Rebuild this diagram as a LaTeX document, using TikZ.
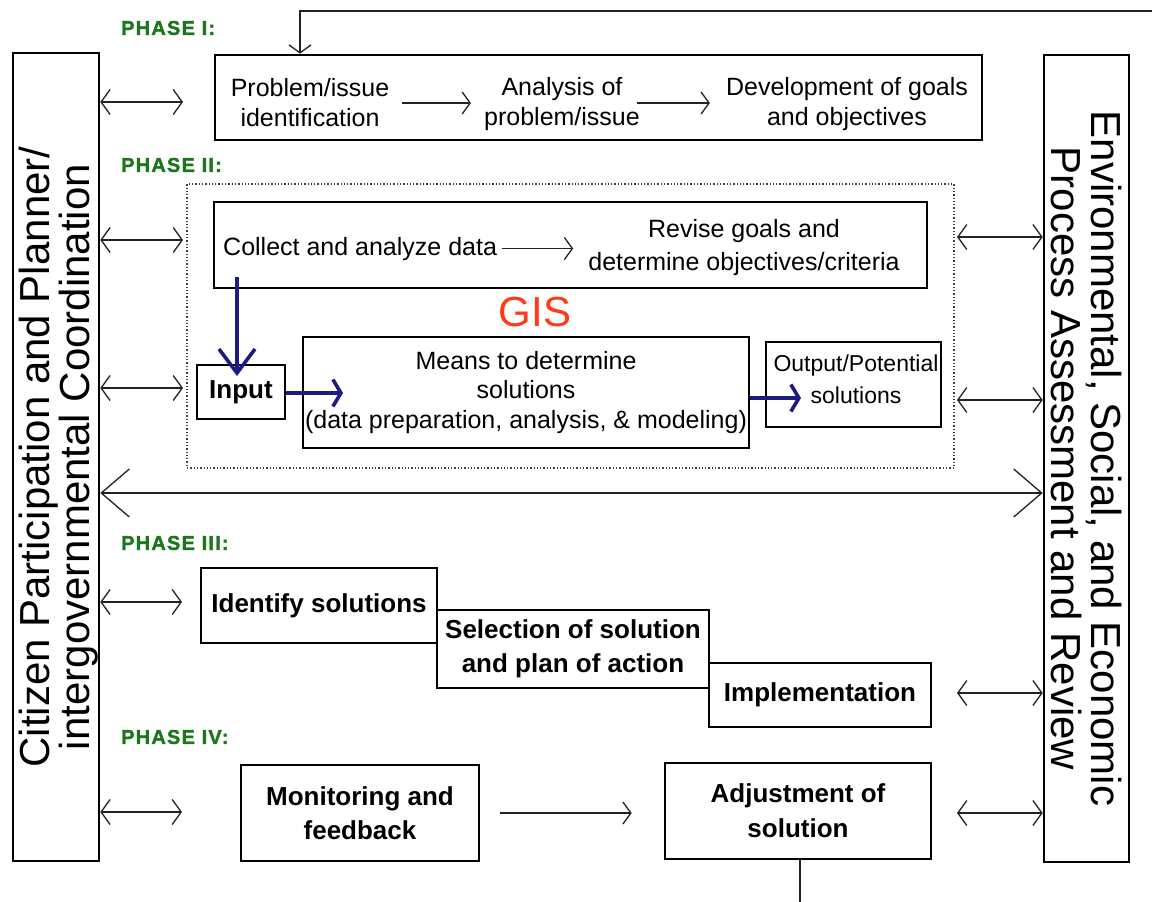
\documentclass[tikz,border=0pt]{standalone}
\usepackage{fontspec}
\setmainfont{Liberation Sans}
\newfontfamily\phasefont{Liberation Sans}[LetterSpace=6, BoldFeatures={FakeBold=1.5}]
\usetikzlibrary{arrows.meta}
\definecolor{phasegreen}{HTML}{1C761C}
\definecolor{gisred}{HTML}{FF3A14}
\definecolor{gisnavy}{HTML}{1C1C80}
\definecolor{ink}{HTML}{222222}

\begin{document}
\begin{tikzpicture}[x=1pt,y=-1pt,
  box/.style={draw=black, line width=2.6pt, inner sep=0pt, align=center},
  txt/.style={align=center, inner sep=5pt, font=\fontsize{25}{30}\selectfont},
  btxt/.style={font=\fontsize{26}{34}\selectfont\bfseries},
  phase/.style={anchor=west, text=phasegreen, inner sep=0pt,
    font=\fontsize{20}{22}\phasefont\bfseries},
  side/.style={align=center, inner sep=0pt, font=\fontsize{42}{40}\selectfont},
  link/.style={draw=ink, line width=1.3pt,
    -{Straight Barb[length=8pt,width=22pt]}},
  both/.style={draw=ink, line width=1.3pt,
    {Straight Barb[length=9pt,width=25pt]}-{Straight Barb[length=9pt,width=25pt]}},
  gisdown/.style={draw=gisnavy, line width=3.6pt,
    -{Straight Barb[length=24pt,width=36pt]}},
  gisright/.style={draw=gisnavy, line width=3.6pt,
    -{Straight Barb[length=8pt,width=27pt]}},
]
\useasboundingbox (0,0) rectangle (1152,902);
\fill[white] (0,0) rectangle (1152,902);

% side panels
\node[box, minimum width=86, minimum height=808] (lb) at (56,457) {};
\node[side, rotate=90] (lbt) at ([xshift=3pt]lb.center)
  {Citizen Participation and Planner/\\intergovernmental Coordination};
\node[box, minimum width=85, minimum height=807] (rb) at (1086.5,458.5) {};
\node[side, rotate=-90] (rbt) at (rb.center)
  {Environmental, Social, and Economic\\Process Assessment and Review};

% phase labels
\node[phase] (ph1) at (121,28) {PHASE I:};
\node[phase] (ph2) at (121,165) {PHASE II:};
\node[phase] (ph3) at (121,543) {PHASE III:};
\node[phase] (ph4) at (121,737) {PHASE IV:};

% phase I
\node[box, minimum width=767, minimum height=85] (p1) at (598.5,97.5) {};
\node[txt] (t11) at (310,103) {Problem/issue\\identification};
\node[txt] (t12) at (562,104) {Analysis of\\problem/issue};
\node[txt] (t13) at (847,104) {Development of goals\\and objectives};
\draw[link, shorten <=8pt, shorten >=8pt] (t11.east) -- (t11.east -| t12.west);
\draw[link, shorten <=-8pt, shorten >=11pt] (t11.east -| t12.east) -- (t11.east -| t13.west);

% phase II (GIS)
\node[draw=black!75, dotted, line width=1.3pt, minimum width=767, minimum height=284,
  inner sep=0pt] (gisbox) at (570.5,326) {};
\node[box, minimum width=713, minimum height=86] (cb) at (570.5,245) {};
\node[txt, anchor=base west] (tc1) at (218,255) {Collect and analyze data};
\node[txt, font=\fontsize{25}{33}\selectfont] (tc2) at (744,248)
  {Revise goals and\\determine objectives/criteria};
\draw[link, shorten >=10pt] (tc1.east) -- (tc1.east -| tc2.west);
\node[text=gisred, inner sep=0pt, font=\fontsize{42}{42}\selectfont] (gis) at (535,312) {GIS};

\node[box, minimum width=88, minimum height=54, btxt] (inb) at (241,392) {Input};
\node[box, minimum width=446, minimum height=111,
  font=\fontsize{25}{29.5}\selectfont] (mb) at (526,392.5)
  {Means to determine\\solutions\\(data preparation, analysis, \& modeling)};
\node[box, minimum width=175, minimum height=85] (ob) at (853.5,384.5) {};
\node[txt, font=\fontsize{23}{32}\selectfont] (obt) at (856,379)
  {Output/Potential\\solutions};

\coordinate (ds) at (237,277);
\coordinate (de) at (237,376);
\coordinate (re1) at (343,393);
\coordinate (re2) at (801,398);
\draw[gisdown] (ds) -- (de);
\draw[gisright] (inb.east |- re1) -- (re1);
\draw[gisright] (mb.east |- re2) -- (re2);

% phase III
\node[box, minimum width=236, minimum height=75, btxt] (idb) at (319,605.5) {Identify solutions};
\node[box, minimum width=272, minimum height=78, btxt] (sb) at (573,649)
  {Selection of solution\\and plan of action};
\node[box, minimum width=222, minimum height=64, btxt] (imb) at (820,695) {Implementation};

% phase IV
\node[box, minimum width=238, minimum height=96, btxt] (mob) at (360,813)
  {Monitoring and\\feedback};
\node[box, minimum width=266, minimum height=96,
  font=\fontsize{26}{35}\selectfont\bfseries] (adb) at (798,811)
  {Adjustment of\\solution};
\draw[link, shorten <=20pt, shorten >=32pt] (mob.east) -- (mob.east -| adb.west);

% feedback loop
\coordinate (fbR) at (1152,11);
\coordinate (fbL) at (300,11);
\coordinate (fbB) at (800,902);
\draw[link] (fbR) -- (fbL) -- (fbL |- p1.north);
\draw[draw=ink, line width=1.3pt] (adb.south -| fbB) -- (fbB);

% coordination links, left side
\coordinate (L1) at (183,102);
\coordinate (L2) at (183,240);
\coordinate (L3) at (183,388);
\coordinate (L4) at (182,602);
\coordinate (L5) at (182,812);
\foreach \c in {L1,L2,L3,L4,L5}
  \draw[both] (\c -| lb.east) -- (\c);

% assessment links, right side
\coordinate (R1) at (957,237);
\coordinate (R2) at (957,400);
\coordinate (R3) at (957,693);
\coordinate (R4) at (957,813);
\foreach \c in {R1,R2,R3,R4}
  \draw[both] (\c) -- (\c -| rb.west);

% full-width link between the two panels
\coordinate (M) at (570,493);
\draw[draw=ink, line width=1.3pt,
  {Straight Barb[length=28pt,width=48pt]}-{Straight Barb[length=28pt,width=48pt]}]
  (M -| lb.east) -- (M -| rb.west);
\end{tikzpicture}
\end{document}
